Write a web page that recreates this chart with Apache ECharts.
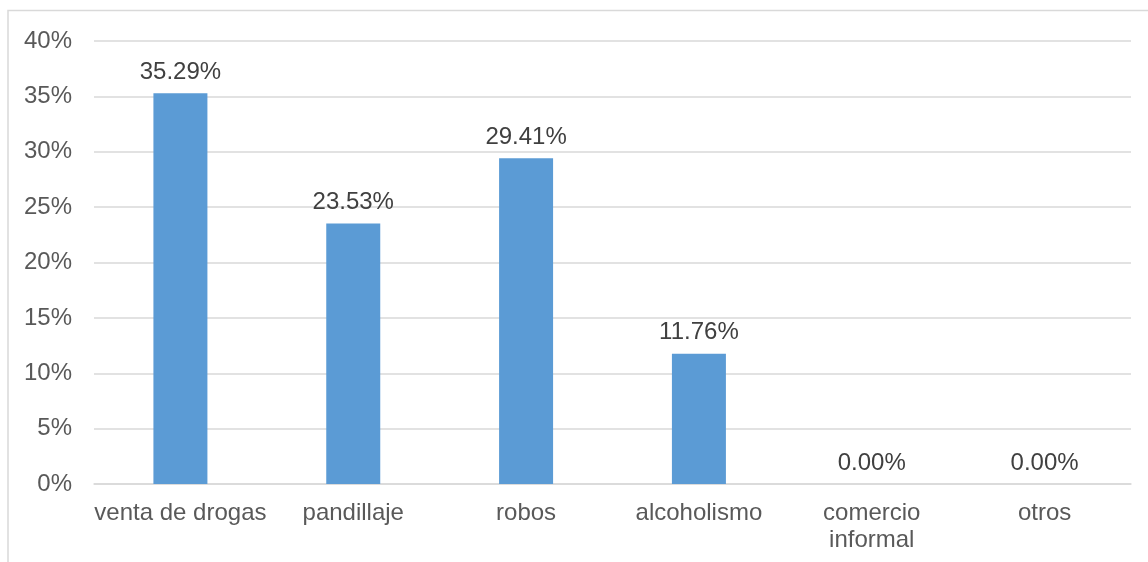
<!DOCTYPE html>
<html>
<head>
<meta charset="utf-8">
<script src="https://cdn.jsdelivr.net/npm/echarts@6/dist/echarts.min.js"></script>
<style>
  html, body { margin: 0; padding: 0; background: #fff; }
  #main { width: 1148px; height: 562px; }
</style>
</head>
<body>
<div id="main"></div>
<script>
// datos del gráfico
var categorias = ['venta de drogas', 'pandillaje', 'robos', 'alcoholismo', 'comercio\ninformal', 'otros'];
var valores = [35.29, 23.53, 29.41, 11.76, 0, 0];

var myChart = echarts.init(document.getElementById('main'));

var option = {
    backgroundColor: '#fff',
    textStyle: { fontFamily: 'Liberation Sans, Arial, sans-serif' },
    animation: false,
    graphic: [{
        type: 'rect',
        shape: { x: 8, y: 10.5, width: 1200, height: 600 },
        style: { fill: 'none', stroke: '#d9d9d9', lineWidth: 1.5 },
        silent: true
    }],
    grid: { left: 94, right: 17, top: 41, bottom: 78 },
    xAxis: {
        type: 'category',
        data: categorias,
        axisLine: { lineStyle: { color: '#d9d9d9', width: 1.5 } },
        axisTick: { show: false },
        axisLabel: {
            color: '#595959',
            fontSize: 24,
            lineHeight: 27,
            margin: 16,
            interval: 0
        }
    },
    yAxis: {
        type: 'value',
        min: 0,
        max: 40,
        interval: 5,
        axisLine: { show: false },
        axisTick: { show: false },
        splitLine: { lineStyle: { color: '#d9d9d9', width: 1.5 } },
        axisLabel: {
            color: '#595959',
            fontSize: 24,
            margin: 22,
            padding: [3, 0, 0, 0],
            formatter: '{value}%'
        }
    },
    series: [{
        type: 'bar',
        data: valores,
        barWidth: 54,
        itemStyle: { color: '#5b9bd5' },
        label: {
            show: true,
            position: 'top',
            distance: 9,
            color: '#404040',
            fontSize: 24,
            formatter: function (p) { return p.value.toFixed(2) + '%'; }
        }
    }]
};

myChart.setOption(option);
</script>
</body>
</html>
